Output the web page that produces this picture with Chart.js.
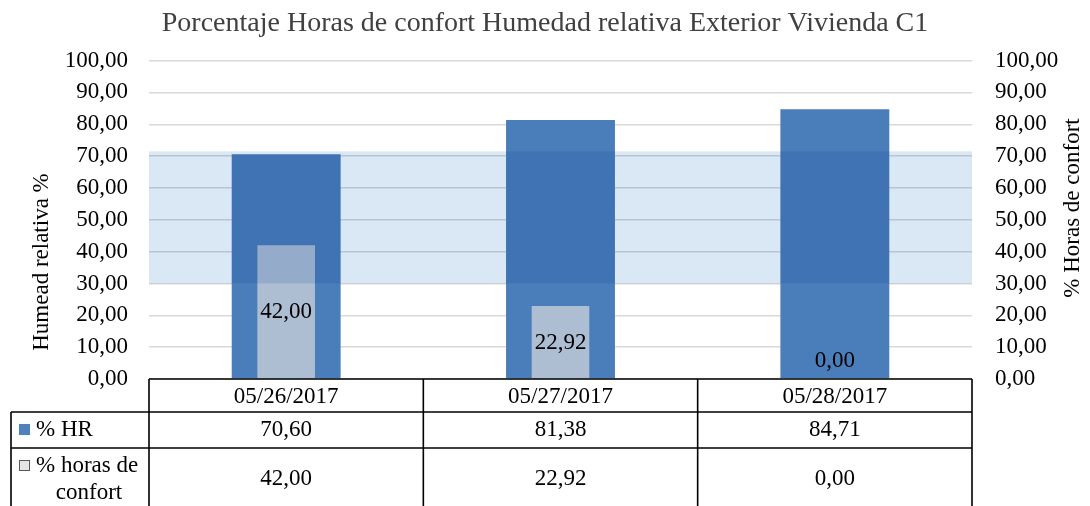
<!DOCTYPE html>
<html>
<head>
<meta charset="utf-8">
<script src="https://cdn.jsdelivr.net/npm/chart.js@4.4.0/dist/chart.umd.min.js"></script>
<style>
  html, body { margin: 0; padding: 0; background: #fff; }
  #wrap { width: 1090px; height: 506px; }
</style>
</head>
<body>
<div id="wrap"><canvas id="chart"></canvas></div>
<script>
// Datos
const fechas = ['05/26/2017', '05/27/2017', '05/28/2017'];
const hr = [70.60, 81.38, 84.71];
const horasConfort = [42.00, 22.92, 0.00];
const bandaConfort = [30, 71.5]; // zona de confort (min, max)
const serieNombres = ['% HR', '% horas de confort'];

const FONT = "'Liberation Serif', 'Times New Roman', serif";
const fmt = v => Number(v).toFixed(2).replace('.', ',');

// Banda de confort, etiquetas, titulos de ejes y tabla de datos
const tablaPlugin = {
  id: 'tabla',
  afterDatasetsDraw(chart) {
    const { ctx, chartArea: a, scales: { y } } = chart;
    ctx.save();
    // banda (multiplica sobre barras y rejilla)
    const yTop = y.getPixelForValue(bandaConfort[1]);
    const yBot = y.getPixelForValue(bandaConfort[0]);
    ctx.globalCompositeOperation = 'multiply';
    ctx.fillStyle = '#dae8f5';
    ctx.fillRect(a.left, yTop, a.right - a.left, yBot - yTop);
    ctx.globalCompositeOperation = 'source-over';

    // etiquetas de % horas de confort
    const meta = chart.getDatasetMeta(1);
    ctx.fillStyle = '#000';
    ctx.font = `23px ${FONT}`;
    ctx.textAlign = 'center';
    ctx.textBaseline = 'middle';
    meta.data.forEach((bar, i) => {
      const h = bar.base - bar.y;
      const yy = h < 36 ? bar.base - 18 : bar.y + h / 2;
      ctx.fillText(fmt(horasConfort[i]), bar.x, yy);
    });
    ctx.restore();
  },
  afterDraw(chart) {
    const { ctx, chartArea: a, scales: { x } } = chart;
    const colW = (a.right - a.left) / fechas.length;
    const top = a.bottom, r1 = top + 33, r2 = r1 + 36, bottom = chart.height;
    const leftT = 11;
    ctx.save();

    // titulos de ejes
    ctx.fillStyle = '#000';
    ctx.font = `23px ${FONT}`;
    ctx.textAlign = 'center';
    ctx.textBaseline = 'middle';
    ctx.save();
    ctx.translate(42, 262);
    ctx.rotate(-Math.PI / 2);
    ctx.fillText('Humead relativa %', 0, 0);
    ctx.restore();
    ctx.save();
    ctx.translate(1073, 208);
    ctx.rotate(-Math.PI / 2);
    ctx.fillText('% Horas de confort', 0, 0);
    ctx.restore();

    // lineas de tabla
    ctx.strokeStyle = '#000';
    ctx.lineWidth = 1.6;
    ctx.beginPath();
    ctx.moveTo(a.left, top); ctx.lineTo(a.right, top);
    ctx.moveTo(leftT, r1); ctx.lineTo(a.right, r1);
    ctx.moveTo(leftT, r2); ctx.lineTo(a.right, r2);
    ctx.moveTo(leftT, r1); ctx.lineTo(leftT, bottom);
    for (let i = 0; i <= fechas.length; i++) {
      const xx = a.left + colW * i;
      ctx.moveTo(xx, top); ctx.lineTo(xx, bottom);
    }
    ctx.stroke();

    // valores
    fechas.forEach((f, i) => {
      const cx = x.getPixelForValue(i);
      ctx.fillText(fmt(hr[i]), cx, (r1 + r2) / 2);
      ctx.fillText(fmt(horasConfort[i]), cx, 479);
    });

    // leyenda en la tabla
    ctx.fillStyle = '#4f81bd';
    ctx.fillRect(19, 424, 11, 11);
    ctx.fillStyle = '#000';
    ctx.textAlign = 'left';
    ctx.fillText(serieNombres[0], 36, (r1 + r2) / 2);

    ctx.fillStyle = '#e6e6e6';
    ctx.fillRect(19, 460, 11, 11);
    ctx.strokeStyle = '#595959';
    ctx.lineWidth = 1;
    ctx.strokeRect(19.5, 460.5, 10, 10);
    ctx.fillStyle = '#000';
    const partes = serieNombres[1].split(' de ');
    ctx.fillText(partes[0] + ' de', 36, 466);
    ctx.textAlign = 'center';
    ctx.fillText(partes[1], 89, 493);
    ctx.restore();
  }
};

const yTicks = {
  stepSize: 10,
  color: '#000',
  font: { family: FONT, size: 23 },
  callback: v => fmt(v)
};

new Chart(document.getElementById('chart'), {
  type: 'bar',
  data: {
    labels: fechas,
    datasets: [
      {
        label: serieNombres[0],
        data: hr,
        backgroundColor: '#4a7ebb',
        grouped: false,
        categoryPercentage: 1,
        barPercentage: 0.397,
        yAxisID: 'y',
        order: 2
      },
      {
        label: serieNombres[1],
        data: horasConfort,
        backgroundColor: '#adbdd2',
        grouped: false,
        categoryPercentage: 1,
        barPercentage: 0.21,
        yAxisID: 'y1',
        order: 1
      }
    ]
  },
  options: {
    responsive: true,
    maintainAspectRatio: false,
    animation: false,
    layout: { padding: { left: 0, right: 0, top: 0, bottom: 94 } },
    plugins: {
      legend: { display: false },
      tooltip: { enabled: false },
      title: {
        display: true,
        text: 'Porcentaje Horas de confort Humedad relativa Exterior Vivienda C1',
        color: '#404040',
        font: { family: FONT, size: 28, weight: 'normal' },
        padding: { top: 7, bottom: 20 }
      }
    },
    scales: {
      x: {
        grid: { display: false, drawTicks: false },
        border: { display: false },
        ticks: { color: '#000', font: { family: FONT, size: 23 }, padding: 4 },
        afterFit: s => { s.height = 33; }
      },
      y: {
        min: 0, max: 100,
        ticks: { ...yTicks, padding: 21 },
        grid: { color: '#d9d9d9', drawTicks: false, lineWidth: 1.5 },
        border: { display: false },
        afterFit: s => { s.width = 149; }
      },
      y1: {
        position: 'right',
        min: 0, max: 100,
        ticks: { ...yTicks, padding: 23 },
        grid: { display: false, drawTicks: false },
        border: { display: false },
        afterFit: s => { s.width = 118; }
      }
    }
  },
  plugins: [tablaPlugin]
});
</script>
</body>
</html>
